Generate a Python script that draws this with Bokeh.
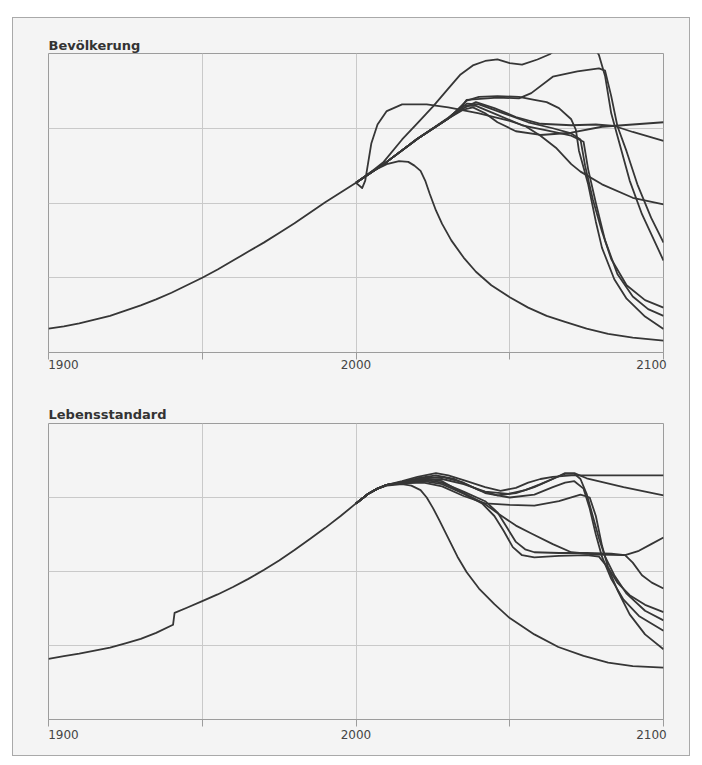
from bokeh.plotting import figure
from bokeh.models import Range1d, FixedTicker, LinearAxis
from bokeh.layouts import column
from bokeh.embed import file_html
from bokeh.resources import INLINE

# ---------------- data ----------------
tick_years = [1900, 1950, 2000, 2050, 2100]
tick_label_years = [1900, 2000, 2100]
tick_label_texts = ["1900", "2000", "2100"]
tick_label_shift_px = [15, 0, -12]      # left / centre / right aligned look (layout only)
grid_values = [1, 2, 3]

title_pop = "Bevölkerung"
title_std = "Lebensstandard"

# Bevölkerung (population) - history
pop_hist = [(1900, 0.32), (1905, 0.35), (1910, 0.39), (1915, 0.44), (1920, 0.49), (1925, 0.56),
            (1930, 0.63), (1935, 0.71), (1940, 0.80), (1945, 0.90), (1950, 1.00), (1955, 1.11),
            (1960, 1.23), (1965, 1.35), (1970, 1.47), (1975, 1.60), (1980, 1.73), (1985, 1.87),
            (1990, 2.01), (1995, 2.14), (2000, 2.27)]
# scenarios
pop_s1 = [(2000, 2.27), (2005, 2.42), (2010, 2.52), (2014, 2.56), (2017, 2.55), (2019, 2.50), (2021, 2.43),
          (2022.5, 2.30), (2024, 2.12), (2026, 1.90), (2028, 1.72), (2031, 1.50), (2035, 1.27), (2039, 1.08),
          (2044, 0.90), (2050, 0.74), (2056, 0.60), (2062, 0.49), (2068, 0.41), (2075, 0.32), (2082, 0.25),
          (2090, 0.20), (2100, 0.16)]
pop_s2 = [(2000, 2.27), (2002, 2.20), (2003, 2.30), (2004, 2.55), (2005, 2.80), (2007, 3.05), (2010, 3.23),
          (2015, 3.32), (2023, 3.32), (2030, 3.28), (2040, 3.20), (2050, 3.10), (2055, 3.03), (2060, 2.90),
          (2065, 2.74), (2070, 2.52), (2073, 2.42), (2080, 2.25), (2090, 2.07), (2100, 1.98)]
pop_s3 = [(2000, 2.27), (2005, 2.42), (2009, 2.55), (2015, 2.85), (2020, 3.07), (2025, 3.29), (2030, 3.53),
          (2034, 3.72), (2038, 3.84), (2042, 3.90), (2046, 3.92), (2050, 3.87), (2054, 3.85), (2059, 3.92),
          (2063, 3.99), (2068, 4.15), (2073, 4.22), (2077, 4.12), (2079, 3.98), (2081, 3.70), (2083, 3.20),
          (2085, 2.90), (2089, 2.30), (2093, 1.85), (2100, 1.23)]
pop_s4 = [(2000, 2.27), (2010, 2.55), (2020, 2.86), (2030, 3.14), (2034, 3.27), (2036, 3.38), (2046, 3.41),
          (2053, 3.40), (2057, 3.47), (2064, 3.69), (2072, 3.76), (2079, 3.80), (2081, 3.77), (2083, 3.43),
          (2085, 3.03), (2088, 2.69), (2091.5, 2.25), (2096, 1.80), (2100, 1.47)]
pop_s5 = [(2000, 2.27), (2010, 2.55), (2020, 2.86), (2030, 3.13), (2035, 3.25), (2038, 3.28), (2042, 3.20),
          (2046, 3.08), (2052, 2.96), (2060, 2.91), (2070, 2.94), (2080, 3.02), (2090, 3.05), (2100, 3.08)]
pop_s6 = [(2000, 2.27), (2010, 2.55), (2020, 2.86), (2030, 3.13), (2035, 3.27), (2039, 3.35), (2045, 3.27),
          (2052, 3.15), (2060, 3.06), (2070, 3.04), (2078, 3.05), (2084, 3.03), (2090, 2.95), (2100, 2.83)]
pop_s7 = [(2000, 2.27), (2010, 2.55), (2020, 2.86), (2030, 3.13), (2036, 3.37), (2040, 3.42), (2046, 3.43),
          (2053, 3.42), (2058, 3.38), (2062, 3.35), (2066, 3.27), (2070, 3.12), (2071.5, 2.98), (2072.5, 2.70),
          (2075.5, 2.25), (2078, 1.75), (2080, 1.40), (2084, 0.98), (2088, 0.72), (2094, 0.48), (2100, 0.315)]
pop_s8 = [(2000, 2.27), (2010, 2.55), (2020, 2.86), (2030, 3.13), (2036, 3.33), (2040, 3.32), (2048, 3.20),
          (2056, 3.08), (2064, 3.00), (2070, 2.93), (2073, 2.85), (2074.5, 2.50), (2077, 2.05), (2080, 1.62),
          (2083, 1.25), (2088, 0.90), (2094, 0.70), (2100, 0.60)]
pop_s9 = [(2000, 2.27), (2010, 2.55), (2020, 2.86), (2030, 3.13), (2035, 3.30), (2039, 3.30), (2046, 3.18),
          (2054, 3.04), (2062, 2.97), (2070, 2.90), (2074, 2.82), (2075.5, 2.45), (2078, 2.00), (2081, 1.50),
          (2085, 1.05), (2090, 0.75), (2095, 0.58), (2100, 0.49)]

# Lebensstandard (standard of living) - history
std_hist = [(1900, 0.82), (1905, 0.855), (1910, 0.89), (1915, 0.93), (1920, 0.97), (1925, 1.03),
            (1930, 1.09), (1935, 1.17), (1940.5, 1.28), (1941, 1.44), (1945, 1.51), (1950, 1.60),
            (1955, 1.69), (1960, 1.79), (1965, 1.90), (1970, 2.02), (1975, 2.15), (1980, 2.29),
            (1985, 2.44), (1990, 2.59), (1995, 2.75), (2000, 2.92)]
std_s1 = [(2000, 2.92), (2004, 3.05), (2007, 3.12), (2010, 3.16), (2015, 3.18), (2018, 3.16), (2021, 3.10),
          (2023, 3.00), (2025, 2.86), (2027, 2.70), (2030, 2.45), (2033, 2.20), (2036, 1.99), (2040, 1.77),
          (2045, 1.56), (2050, 1.37), (2058, 1.15), (2065.8, 0.98), (2074, 0.86), (2082, 0.77), (2090, 0.72),
          (2100, 0.70)]
std_s2 = [(2000, 2.92), (2004, 3.05), (2007, 3.12), (2010, 3.17), (2015, 3.22), (2020, 3.28), (2026, 3.33),
          (2030, 3.30), (2036, 3.22), (2042, 3.14), (2047, 3.09), (2052, 3.13), (2056, 3.20), (2060, 3.25),
          (2064, 3.28), (2070, 3.30), (2100, 3.30)]
std_s3 = [(2000, 2.92), (2004, 3.05), (2007, 3.12), (2010, 3.17), (2015, 3.21), (2020, 3.26), (2026, 3.30),
          (2032, 3.25), (2040, 3.10), (2046, 3.03), (2052, 3.06), (2058, 3.14), (2064, 3.25), (2068, 3.33),
          (2071, 3.33), (2075, 3.26), (2087, 3.14), (2100, 3.03)]
std_s4 = [(2000, 2.92), (2004, 3.05), (2007, 3.12), (2010, 3.17), (2015, 3.20), (2022, 3.26), (2028, 3.22),
          (2033, 3.10), (2042, 2.91), (2046.3, 2.78), (2052, 2.62), (2057.2, 2.51), (2064, 2.37), (2070, 2.26),
          (2078, 2.23), (2087.5, 2.22), (2092, 2.28), (2096, 2.37), (2100, 2.46)]
std_s5 = [(2000, 2.92), (2004, 3.05), (2007, 3.12), (2010, 3.17), (2015, 3.20), (2022, 3.24), (2028, 3.20),
          (2035, 3.08), (2042, 2.95), (2046, 2.80), (2049, 2.60), (2052, 2.40), (2055, 2.30), (2058, 2.26),
          (2066, 2.25), (2075, 2.25), (2083, 2.24), (2087.5, 2.22), (2090, 2.12), (2093, 1.95), (2096.2, 1.85),
          (2100, 1.77)]
std_s6 = [(2000, 2.92), (2004, 3.05), (2007, 3.12), (2010, 3.17), (2015, 3.19), (2022, 3.22), (2028, 3.18),
          (2035, 3.05), (2041, 2.92), (2045, 2.75), (2048, 2.55), (2051, 2.33), (2054, 2.22), (2058, 2.19),
          (2066, 2.21), (2075, 2.22), (2079, 2.20), (2082, 2.05), (2085, 1.85), (2089, 1.68), (2094, 1.55),
          (2100, 1.45)]
std_s7 = [(2000, 2.92), (2004, 3.05), (2007, 3.12), (2010, 3.17), (2015, 3.20), (2022, 3.24), (2028, 3.25),
          (2035, 3.18), (2042, 3.08), (2049.6, 3.05), (2055, 3.10), (2060, 3.18), (2065, 3.27), (2068, 3.32),
          (2071, 3.32), (2073, 3.25), (2075, 3.05), (2077, 2.75), (2079, 2.45), (2081, 2.20), (2084, 1.95),
          (2088, 1.70), (2094, 1.47), (2100, 1.34)]
std_s8 = [(2000, 2.92), (2004, 3.05), (2007, 3.12), (2010, 3.17), (2015, 3.20), (2022, 3.26), (2028, 3.28),
          (2035, 3.20), (2042, 3.06), (2050, 3.00), (2058, 3.04), (2064, 3.14), (2068, 3.20), (2071, 3.22),
          (2074, 3.12), (2076, 2.85), (2078, 2.50), (2080, 2.20), (2083, 1.90), (2087, 1.62), (2092, 1.40),
          (2100, 1.20)]
std_s9 = [(2000, 2.92), (2004, 3.05), (2007, 3.12), (2010, 3.17), (2015, 3.19), (2022, 3.20), (2028, 3.15),
          (2035, 3.02), (2042, 2.92), (2050, 2.90), (2058, 2.89), (2066, 2.95), (2073, 3.04), (2076, 3.00),
          (2078, 2.75), (2080, 2.35), (2082, 2.05), (2085, 1.75), (2089, 1.42), (2094, 1.15), (2100, 0.95)]

pop_scenarios = [pop_s1, pop_s2, pop_s3, pop_s4, pop_s5, pop_s6, pop_s7, pop_s8, pop_s9]
std_scenarios = [std_s1, std_s2, std_s3, std_s4, std_s5, std_s6, std_s7, std_s8, std_s9]

# ---------------- styling ----------------
BG = "#f4f4f4"
LINE = "#363636"
GRID = "#c9c9c9"
FRAME = "#9c9c9c"
FONT = "DejaVu Sans"
FIG_W = 676
BORDER_L = 35
BORDER_R = 26


def make_panel(title, hist, scenarios, height, border_top, border_bottom, title_standoff, label_standoff):
    p = figure(width=FIG_W, height=height, x_range=Range1d(1900, 2100), y_range=Range1d(0, 4),
               output_backend="svg", toolbar_location=None,
               min_border_left=BORDER_L, min_border_right=BORDER_R,
               min_border_top=border_top, min_border_bottom=border_bottom)
    p.background_fill_color = BG
    p.border_fill_color = BG
    p.outline_line_color = FRAME
    p.outline_line_width = 1
    p.yaxis.visible = False

    p.title.text = title
    p.title.align = "left"
    p.title.text_font = FONT
    p.title.text_font_size = "13px"
    p.title.text_font_style = "bold"
    p.title.text_color = "#333333"
    p.title.standoff = title_standoff
    p.title.offset = 0

    # axis carrying the tick marks
    xa = p.xaxis[0]
    xa.ticker = FixedTicker(ticks=tick_years)
    xa.major_label_text_font_size = "1px"
    xa.major_label_text_color = None
    xa.major_label_standoff = 0
    xa.minor_tick_line_color = None
    xa.major_tick_in = 0
    xa.major_tick_out = 7
    xa.major_tick_line_color = FRAME
    xa.axis_line_color = FRAME

    # axis carrying the year labels (label anchor shifted to mimic left/right alignment)
    px_per_year = (FIG_W - BORDER_L - BORDER_R) / 200.0
    label_pos = [y + s / px_per_year for y, s in zip(tick_label_years, tick_label_shift_px)]
    la = LinearAxis(ticker=FixedTicker(ticks=label_pos),
                    major_label_overrides={lp: t for lp, t in zip(label_pos, tick_label_texts)},
                    axis_line_color=None, major_tick_line_color=None, minor_tick_line_color=None,
                    major_tick_in=0, major_tick_out=0, major_label_standoff=label_standoff,
                    major_label_text_font=FONT, major_label_text_font_size="12px",
                    major_label_text_color="#444444")
    p.add_layout(la, "below")

    p.xgrid.ticker = FixedTicker(ticks=tick_years)
    p.xgrid.grid_line_color = GRID
    p.ygrid.ticker = FixedTicker(ticks=grid_values)
    p.ygrid.grid_line_color = GRID

    p.line([a for a, b in hist], [b for a, b in hist], line_color=LINE, line_width=1.8, line_join="round")
    for sc in scenarios:
        p.line([a for a, b in sc], [b for a, b in sc], line_color=LINE, line_width=1.8,
               line_join="round")
    return p


p1 = make_panel(title_pop, pop_hist, pop_scenarios, height=379, border_top=35, border_bottom=45,
                title_standoff=1, label_standoff=0)
p2 = make_panel(title_std, std_hist, std_scenarios, height=358, border_top=26, border_bottom=36,
                title_standoff=4, label_standoff=3)

layout = column(p1, p2, styles={"margin-left": "12px", "margin-top": "17px",
                                "border": "1px solid #a9a9a9", "background-color": BG})

open("out.html", "w").write(file_html(layout, INLINE))
